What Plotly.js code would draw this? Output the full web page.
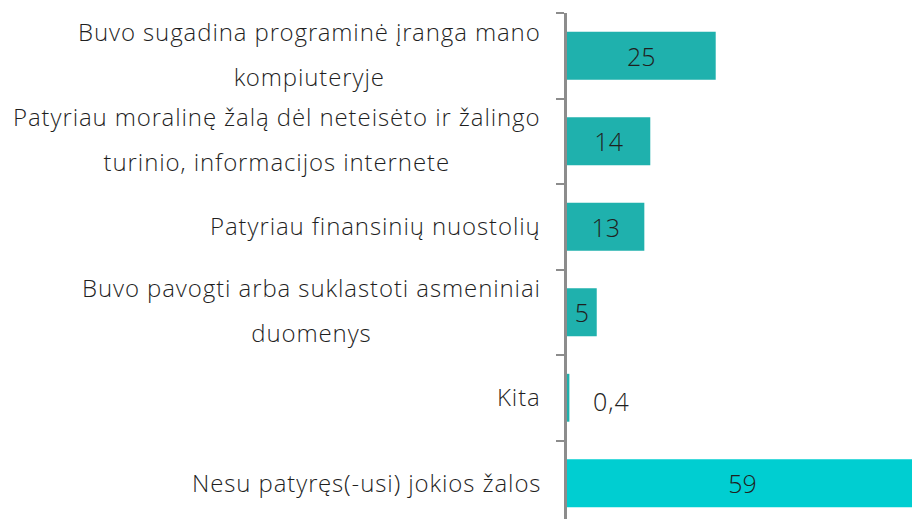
<!DOCTYPE html>
<html>
<head>
<meta charset="utf-8">
<script src="https://cdn.plot.ly/plotly-3.0.1.min.js"></script>
<style>html,body{margin:0;padding:0;background:#fff;}#chart{width:912px;height:519px;}
.annotation-text{letter-spacing:0.9px;}</style>
</head>
<body>
<div id="chart"></div>
<script>
// Data
const categories = [
  "Buvo sugadina programinė įranga mano\nkompiuteryje",
  "Patyriau moralinę žalą dėl neteisėto ir žalingo\nturinio, informacijos internete",
  "Patyriau finansinių nuostolių",
  "Buvo pavogti arba suklastoti asmeniniai\nduomenys",
  "Kita",
  "Nesu patyręs(-usi) jokios žalos"
];
const values = [25, 14, 13, 5, 0.4, 59];
const valueLabels = ["25", "14", "13", "5", "0,4", "59"];

const FONT = "Open Sans Light, Open Sans, sans-serif";
const TXT = "#1f1f1f";
const LABEL_SIZE = 24;
const LINE_GAP = 45;
const colors = values.map((v, i) => i === values.length - 1 ? "#00CED1" : "#1FB1AD");
const textpos = values.map(v => v < 2 ? "none" : "inside");
const idx = categories.map((c, i) => i);

const trace = {
  type: "bar",
  orientation: "h",
  y: idx,
  x: values,
  width: 0.56,
  marker: {color: colors},
  text: valueLabels,
  textposition: textpos,
  insidetextanchor: "middle",
  textfont: {family: FONT, size: 25, color: TXT, weight: 300},
  hoverinfo: "none"
};

const annotations = [];
categories.forEach((c, i) => {
  const lines = c.split("\n");
  annotations.push({
    xref: "paper", yref: "y", x: 0, y: i,
    xanchor: "right", yanchor: "middle", align: "center",
    xshift: -24,
    yshift: lines.length > 1 ? 2 : 1,
    text: lines.map(l => '<span style="font-size:' + LABEL_SIZE + 'px">' + l + '</span>').join("<br>"),
    showarrow: false,
    font: {family: FONT, size: lines.length > 1 ? LINE_GAP / 1.3 : LABEL_SIZE, color: TXT, weight: 300}
  });
});
values.forEach((v, i) => {
  if (v < 2) {
    annotations.push({
      xref: "x", yref: "y", x: v, y: i,
      xanchor: "left", yanchor: "middle", xshift: 22, yshift: -3,
      text: valueLabels[i], showarrow: false,
      font: {family: FONT, size: 25, color: TXT, weight: 300}
    });
  }
});

const layout = {
  width: 912, height: 519,
  margin: {l: 567, r: 0, t: 13, b: 0},
  paper_bgcolor: "#fff", plot_bgcolor: "#fff",
  showlegend: false,
  xaxis: {visible: false, range: [0, 58], fixedrange: true},
  yaxis: {
    type: "linear",
    range: [5.418, -0.5],
    tickmode: "array",
    tickvals: [-0.5, 0.5, 1.5, 2.5, 3.5, 4.5],
    showticklabels: false,
    ticks: "outside", ticklen: 8, tickwidth: 2, tickcolor: "#8c8c8c",
    showline: true, linecolor: "#8c8c8c", linewidth: 3,
    showgrid: false, zeroline: false, fixedrange: true
  },
  annotations: annotations
};

Plotly.newPlot("chart", [trace], layout, {staticPlot: true, displayModeBar: false});
</script>
</body>
</html>
